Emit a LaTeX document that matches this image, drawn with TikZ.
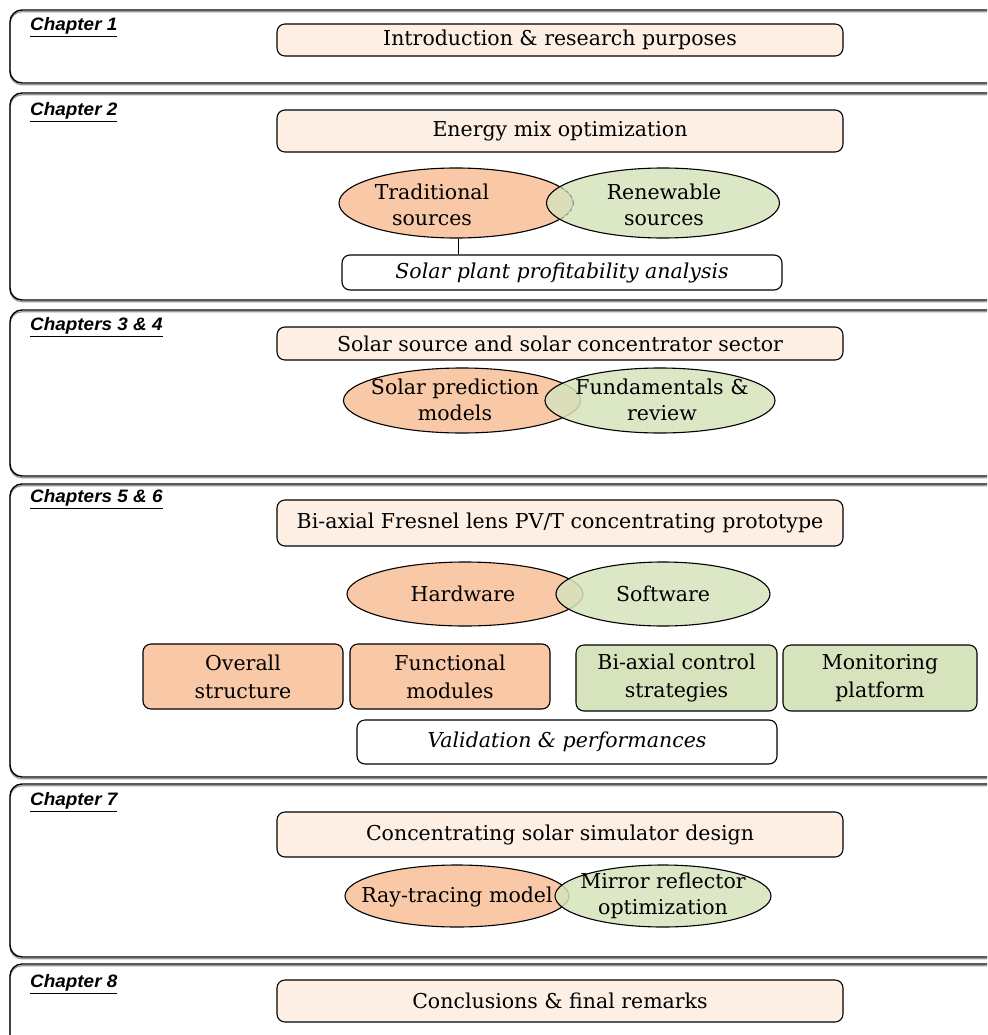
\documentclass[tikz,border=0pt]{standalone}
\usepackage{fontspec}
\setmainfont{DejaVu Serif}
\newfontfamily\chapfont[FakeStretch=1.05]{Liberation Sans}
\newfontfamily\txtfont{DejaVu Serif}
\usetikzlibrary{shapes.geometric}
\definecolor{peach}{HTML}{FDEFE4}
\definecolor{orangefill}{HTML}{F9C8A6}
\definecolor{greenfill}{HTML}{D6E3BC}
\begin{document}
\begin{tikzpicture}[x=1pt,y=-1pt,
  frame/.style={draw=black, line width=1.4pt, rounded corners=12pt},
  fshadow/.style={draw=black!40, line width=1.2pt, rounded corners=12pt},
  mainbox/.style={draw=black, line width=1.1pt, rounded corners=8pt, fill=peach, inner sep=0pt,
     minimum width=566pt, font=\txtfont\fontsize{20.5}{27}\selectfont},
  whitebox/.style={draw=black, line width=1.1pt, rounded corners=8pt, fill=white, inner sep=0pt,
     font=\txtfont\itshape\fontsize{20.5}{27}\selectfont},
  obox/.style={draw=black, line width=1.1pt, rounded corners=8pt, fill=orangefill, inner sep=0pt,
     align=center, font=\txtfont\fontsize{20.5}{28}\selectfont},
  gbox/.style={obox, fill=greenfill},
  oell/.style={ellipse, draw=black, line width=1.1pt, fill=orangefill, inner sep=0pt},
  gell/.style={ellipse, draw=black, line width=1.1pt, fill=greenfill, fill opacity=0.85, draw opacity=1, inner sep=0pt},
  etext/.style={align=center, inner sep=0pt, font=\txtfont\fontsize{20.5}{26}\selectfont},
  chap/.style={anchor=west, inner sep=0pt, font=\chapfont\bfseries\itshape\fontsize{18}{20}\selectfont}
]
\clip (0,0) rectangle (987,1035);
\fill[white] (0,0) rectangle (987,1035);

% chapter frames
\foreach \a/\b in {10/83, 93/300, 310/476, 484/777, 784/957, 964/1060}{
  \draw[fshadow] (10,\a+1.8) rectangle (1000,\b+1.8);
  \draw[frame] (10,\a) rectangle (1000,\b);
}

% chapter labels
\node[chap] (l1) at (30,27) {\underline{Chapter 1}};
\node[chap] (l2) at (30,112) {\underline{Chapter 2}};
\node[chap] (l3) at (30,327) {\underline{Chapters 3 \& 4}};
\node[chap] (l4) at (30,499) {\underline{Chapters 5 \& 6}};
\node[chap] (l5) at (30,802) {\underline{Chapter 7}};
\node[chap] (l6) at (30,984) {\underline{Chapter 8}};

% Chapter 1
\node[mainbox, minimum height=32pt] (b1) at (560,40) {Introduction \& research purposes};

% Chapter 2
\node[mainbox, minimum height=42pt] (b2) at (560,131) {Energy mix optimization};
\node[oell, minimum width=234pt, minimum height=70pt] (e2o) at (456,203) {};
\node[gell, minimum width=233pt, minimum height=70pt] (e2g) at (663,203) {};
\draw[black, line width=0.6pt, dashed, opacity=0.35] (e2o.east) arc[start angle=0, end angle=90, x radius=117pt, y radius=-35pt];
\draw[black, line width=0.6pt, dashed, opacity=0.35] (e2o.east) arc[start angle=0, end angle=-90, x radius=117pt, y radius=-35pt];
\node[etext] (t2o) at (432,205) {Traditional\\sources};
\node[etext] (t2g) at (664,205) {Renewable\\sources};
\node[whitebox, minimum width=440pt, minimum height=35pt] (sp) at (562,272.5) {Solar plant profitability analysis};
\draw[line width=0.8pt] (e2o.south -| 458,0) -- (sp.north -| 458,0);

% Chapters 3 & 4
\node[mainbox, minimum height=33pt] (b3) at (560,343.5) {Solar source and solar concentrator sector};
\node[oell, minimum width=237pt, minimum height=65pt] (e3o) at (462,400.5) {};
\node[gell, minimum width=230pt, minimum height=65pt] (e3g) at (660,400.5) {};
\node[etext] (t3o) at (455,400) {Solar prediction\\models};
\node[etext] (t3g) at (662,400) {Fundamentals \&\\review};

% Chapters 5 & 6
\node[mainbox, minimum height=46pt] (b4) at (560,523) {Bi-axial Fresnel lens PV/T concentrating prototype};
\node[oell, minimum width=236pt, minimum height=64pt] (e4o) at (465,594) {};
\node[gell, minimum width=214pt, minimum height=64pt] (e4g) at (663,594) {};
\node[etext] (t4o) at (463,594) {Hardware};
\node[etext] (t4g) at (663,594) {Software};
\node[obox, minimum width=200pt, minimum height=65pt] (s1) at (243,676.5) {Overall\\structure};
\node[obox, minimum width=200pt, minimum height=65pt] (s2) at (450,676.5) {Functional\\modules};
\node[gbox, minimum width=201pt, minimum height=66pt] (s3) at (676.5,678) {Bi-axial control\\strategies};
\node[gbox, minimum width=194pt, minimum height=66pt] (s4) at (880,678) {Monitoring\\platform};
\node[whitebox, minimum width=420pt, minimum height=44pt] (vp) at (567,742) {Validation \& performances};

% Chapter 7
\node[mainbox, minimum height=45pt] (b5) at (560,834.5) {Concentrating solar simulator design};
\node[oell, minimum width=224pt, minimum height=62pt] (e5o) at (457,896) {};
\node[gell, minimum width=216pt, minimum height=62pt] (e5g) at (663,896) {};
\node[etext] (t5o) at (457,897) {Ray-tracing model};
\node[etext] (t5g) at (663,896) {Mirror reflector\\optimization};

% Chapter 8
\node[mainbox, minimum height=42pt] (b6) at (560,1001) {Conclusions \& final remarks};
\end{tikzpicture}
\end{document}
